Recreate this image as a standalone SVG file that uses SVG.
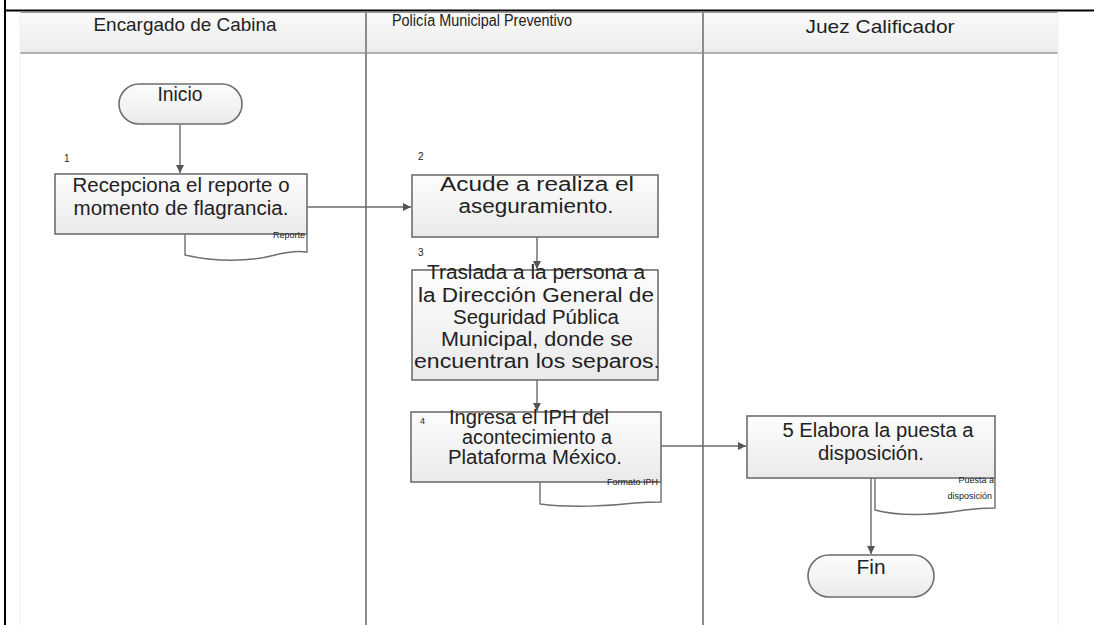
<svg xmlns="http://www.w3.org/2000/svg" width="1094" height="625" viewBox="0 0 1094 625">
<defs>
<linearGradient id="hdr" x1="0" y1="0" x2="0" y2="1"><stop offset="0" stop-color="#fafafa"/><stop offset="1" stop-color="#ececec"/></linearGradient>
<linearGradient id="box" x1="0" y1="0" x2="0" y2="1"><stop offset="0" stop-color="#fdfdfd"/><stop offset="1" stop-color="#eaeaea"/></linearGradient>
<marker id="arr" viewBox="0 0 10 10" refX="10" refY="5" markerWidth="10" markerHeight="8" markerUnits="userSpaceOnUse" orient="auto"><path d="M0,0 L10,5 L0,10 z" fill="#555"/></marker>
<style>
.t{font-family:"Liberation Sans",Arial,sans-serif;fill:#222;text-anchor:middle}
.big{font-size:20px}
.sm{font-size:10px;text-anchor:start}
.xs{font-size:9px;text-anchor:end}
.bx{fill:url(#box);stroke:#6e6e6e;stroke-width:1.6}
.doc{fill:#fff;stroke:#6e6e6e;stroke-width:1.4}
.pill{fill:url(#box);stroke:#6e6e6e;stroke-width:1.6}
.c{fill:none;stroke:#6a6a6a;stroke-width:1.4;marker-end:url(#arr)}
.lane{stroke:#8c8c8c;stroke-width:2}
</style>
</defs>
<rect width="1094" height="625" fill="#fff"/>
<g id="lanes">
<rect x="20" y="12" width="1038" height="41" fill="url(#hdr)"/>
<line x1="20" y1="12.5" x2="1058" y2="12.5" stroke="#9a9a9a" stroke-width="1"/>
<line x1="20" y1="53" x2="1058" y2="53" stroke="#9a9a9a" stroke-width="1.5"/>
<line x1="20" y1="12" x2="20" y2="625" stroke="#f0f0f0" stroke-width="1"/>
<line x1="1058" y1="12" x2="1058" y2="625" stroke="#f0f0f0" stroke-width="1"/>
<line class="lane" x1="366" y1="12" x2="366" y2="625"/>
<line class="lane" x1="703" y1="12" x2="703" y2="625"/>
<text class="t" style="font-size:19px" x="185" y="31" textLength="183" lengthAdjust="spacingAndGlyphs">Encargado de Cabina</text>
<text class="t" style="font-size:16px" x="482" y="26" textLength="180" lengthAdjust="spacingAndGlyphs">Policía Municipal Preventivo</text>
<text class="t" style="font-size:19px" x="880" y="33" textLength="149" lengthAdjust="spacingAndGlyphs">Juez Calificador</text>
</g>
<line x1="5" y1="0" x2="5" y2="625" stroke="#000" stroke-width="2"/>
<line x1="5" y1="10.5" x2="1094" y2="10.5" stroke="#000" stroke-width="2"/>
<g id="connectors">
<path class="c" d="M180,125 V173"/>
<path class="c" d="M307,207 H411"/>
<path class="c" d="M537,237 V269"/>
<path class="c" d="M537,380 V411"/>
<path class="c" d="M661,446 H746"/>
<path class="c" d="M871,478 V554"/>
</g>
<g id="inicio">
<rect class="pill" x="119" y="84" width="123" height="40" rx="20"/>
<text class="t big" x="180" y="101" textLength="45" lengthAdjust="spacingAndGlyphs">Inicio</text>
</g>
<g id="n1">
<path class="doc" d="M185,234 V255 C215,262 250,262 275,255 C290,251 300,251 307,252 V234"/>
<rect class="bx" x="55" y="174" width="252" height="60"/>
<text class="t sm" x="64" y="162">1</text>
<text class="t big" x="181" y="192" textLength="217" lengthAdjust="spacingAndGlyphs">Recepciona el reporte o</text>
<text class="t big" x="181" y="215" textLength="215" lengthAdjust="spacingAndGlyphs">momento de flagrancia.</text>
<text class="t xs" x="305" y="238">Reporte</text>
</g>
<g id="n2">
<rect class="bx" x="412" y="175" width="246" height="62"/>
<text class="t sm" x="418" y="160">2</text>
<text class="t big" x="537" y="191" textLength="194" lengthAdjust="spacingAndGlyphs">Acude a realiza el</text>
<text class="t big" x="536" y="213" textLength="155" lengthAdjust="spacingAndGlyphs">aseguramiento.</text>
</g>
<g id="n3">
<rect class="bx" x="412" y="270" width="246" height="110"/>
<text class="t sm" x="418" y="256">3</text>
<text class="t big" x="536" y="279" textLength="218" lengthAdjust="spacingAndGlyphs">Traslada a la persona a</text>
<text class="t big" x="536" y="302" textLength="236" lengthAdjust="spacingAndGlyphs">la Dirección General de</text>
<text class="t big" x="536" y="324" textLength="166" lengthAdjust="spacingAndGlyphs">Seguridad Pública</text>
<text class="t big" x="537" y="346" textLength="192" lengthAdjust="spacingAndGlyphs">Municipal, donde se</text>
<text class="t big" x="537" y="368" textLength="246" lengthAdjust="spacingAndGlyphs">encuentran los separos.</text>
</g>
<g id="n4">
<path class="doc" d="M540,482 V504 C570,508 610,506 635,503 C648,502 656,502 661,502 V482"/>
<rect class="bx" x="411" y="412" width="250" height="70"/>
<text class="t sm" x="420" y="424" style="font-size:9px">4</text>
<text class="t big" x="529" y="424" textLength="160" lengthAdjust="spacingAndGlyphs">Ingresa el IPH del</text>
<text class="t big" x="537" y="444" textLength="150" lengthAdjust="spacingAndGlyphs">acontecimiento a</text>
<text class="t big" x="535" y="464" textLength="174" lengthAdjust="spacingAndGlyphs">Plataforma México.</text>
<text class="t xs" x="658" y="485">Formato IPH</text>
</g>
<g id="n5">
<path class="doc" d="M875,478 V510 C905,518 940,514 965,510 C980,508 990,508 995,508 V478"/>
<rect class="bx" x="747" y="416" width="248" height="62"/>
<text class="t big" x="878" y="437" textLength="191" lengthAdjust="spacingAndGlyphs">5 Elabora la puesta a</text>
<text class="t big" x="871" y="460" textLength="106" lengthAdjust="spacingAndGlyphs">disposición.</text>
<text class="t xs" x="994" y="483">Puesta a</text>
<text class="t xs" x="992" y="499">disposición</text>
</g>
<g id="fin">
<rect class="pill" x="808" y="555" width="126" height="42" rx="21"/>
<text class="t big" x="871" y="574" textLength="29" lengthAdjust="spacingAndGlyphs">Fin</text>
</g>
</svg>
